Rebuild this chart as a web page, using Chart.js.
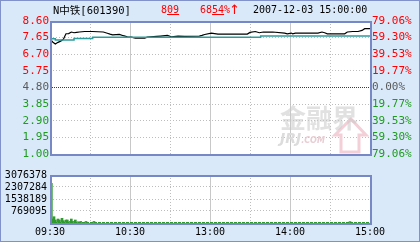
<!DOCTYPE html>
<html>
<head>
<meta charset="utf-8">
<script src="https://cdn.jsdelivr.net/npm/chart.js@4.4.1/dist/chart.umd.min.js"></script>
<style>
  body { margin: 0; }
  #box {
    position: relative; width: 420px; height: 242px; overflow: hidden;
    background: #d9e9f9; box-shadow: inset 0 0 0 1px #8191c9;
    font-family: 'DejaVu Sans Mono', 'Noto Sans CJK SC', monospace;
  }
  canvas { position: absolute; left: 0; }
  #priceChart { top: 0; }
  #volChart { top: 165px; }
  .t { position: absolute; top: 4px; font-size: 10.5px; line-height: 12px; white-space: nowrap; color: #000; }
  .red { color: #ff0000; }
  .wm { position: absolute; white-space: nowrap; pointer-events: none; }
</style>
</head>
<body>
<div id="box">
  <canvas id="priceChart" width="420" height="165"></canvas>
  <canvas id="volChart" width="420" height="77"></canvas>
  <span class="t" style="left:53px">N中铁[601390]</span>
  <span class="t red" style="left:161px;font-size:10px">8<u>09</u></span>
  <span class="t red" style="left:200px;font-size:10px">68<u>54</u>%</span>
  <span class="t red" style="left:229px;top:2px;font:13px 'DejaVu Sans'">↑</span>
  <span class="t" style="left:253px;font-size:10px">2007-12-03 15:00:00</span>
  <svg class="wm" style="left:0;top:0" width="420" height="165">
    <polygon points="351,119 366,135 359,135 359,152 341,152 341,135 335,135" fill="none" stroke="#f3cfd8" stroke-width="3"/>
  </svg>
  <span class="wm" style="left:280px;top:103px;font:bold 26px/28px 'Noto Sans CJK SC';color:rgba(200,200,200,0.55)">金融界</span>
  <span class="wm" style="left:280px;top:130px;font:italic bold 14px/16px 'DejaVu Sans';color:#dcdcdc">JRJ<span style="font-size:8px;color:#e8cdd4">.COM</span></span>
</div>
<script>
// minutes since 09:30 (trading time, 240 in total)
const priceMinutes = [0, 2, 4, 6, 8, 10, 11, 12, 14, 16, 18, 20, 22, 26, 32, 40, 43, 45, 47, 52, 55, 58, 61, 64, 71, 73, 80, 83, 88, 91, 96, 101, 112, 114, 116, 121, 126, 148, 150, 154, 157, 160, 167, 176, 178, 181, 182, 184, 187, 201, 204, 206, 208, 221, 223, 227, 231, 234, 236, 240];
const priceValues = [7.58, 7.40, 7.29, 7.38, 7.45, 7.55, 7.72, 7.87, 7.88, 7.97, 7.93, 7.95, 7.97, 8.00, 8.00, 7.97, 7.90, 7.85, 7.81, 7.83, 7.76, 7.70, 7.68, 7.62, 7.62, 7.68, 7.72, 7.74, 7.78, 7.70, 7.74, 7.72, 7.74, 7.78, 7.83, 7.91, 7.85, 7.85, 7.95, 8.00, 7.93, 7.97, 7.97, 7.91, 7.87, 7.91, 7.87, 7.91, 7.91, 7.91, 7.97, 7.93, 7.87, 7.87, 7.97, 8.00, 8.00, 8.06, 8.16, 8.16];
const avgMinutes = [0, 4, 18, 32, 158, 240];
const avgValues = [7.58, 7.51, 7.60, 7.67, 7.74, 7.74];
const volMinutes = [1, 2, 3, 4, 6, 7, 9, 10, 12, 13, 15, 16, 17, 19, 21, 23, 27, 33, 225];
const volValues = [2545000, 256000, 404000, 192000, 256000, 192000, 301000, 147000, 192000, 192000, 100000, 256000, 100000, 192000, 80000, 100000, 100000, 100000, 90000];
const baseVolume = 32000;

const prevClose = 4.80;
const priceTicks = [1.00, 1.95, 2.90, 3.85, 4.80, 5.75, 6.70, 7.65, 8.60];
const pctLabels = ['79.06%', '59.30%', '39.53%', '19.77%', '0.00%', '19.77%', '39.53%', '59.30%', '79.06%'];
const volTicks = [0, 769095, 1538189, 2307284, 3076378];
const timeTicks = [0, 30, 60, 90, 120, 150, 180, 210, 240];
const timeLabels = ['09:30', '', '10:30', '', '13:00', '', '14:00', '', '15:00'];

Chart.defaults.font.family = "'DejaVu Sans Mono', monospace";

const red = '#ff0000';
const green = '#1f9b1f';
const frameColor = '#7888c4';

function isPrevClose(ctx) {
  return ctx.tick && Math.abs(ctx.tick.value - prevClose) < 0.001;
}

function labelColor(ctx) {
  if (isPrevClose(ctx)) return '#5a5a5a';
  return ctx.tick.value > prevClose ? red : green;
}

function timeGridColor(ctx) {
  if (!ctx.tick) return '#c4c4c4';
  return ctx.tick.value % 60 === 0 ? '#c8c8c8' : '#bdbdbd';
}

function timeGridDash(ctx) {
  if (!ctx.tick) return [];
  return ctx.tick.value % 60 === 0 ? [] : [1, 2];
}

const framePlugin = {
  id: 'frame',
  beforeDraw(chart) {
    const a = chart.chartArea;
    const ctx = chart.ctx;
    ctx.save();
    ctx.fillStyle = '#ffffff';
    ctx.fillRect(a.left, a.top, a.right - a.left + 1, a.bottom - a.top + 1);
    ctx.restore();
  },
  afterDraw(chart) {
    const a = chart.chartArea;
    const ctx = chart.ctx;
    ctx.save();
    ctx.strokeStyle = frameColor;
    ctx.lineWidth = 2;
    ctx.strokeRect(a.left + 1, a.top + 1, a.right - a.left, a.bottom - a.top);
    ctx.restore();
  }
};

const timeAxis = {
  type: 'linear',
  min: 0,
  max: 240,
  offset: false,
  afterBuildTicks: (s) => { s.ticks = timeTicks.map(v => ({ value: v })); },
  grid: { drawTicks: false, offset: false, color: timeGridColor },
  border: { display: false, dash: timeGridDash }
};

new Chart(document.getElementById('priceChart'), {
  type: 'line',
  data: {
    datasets: [{
      data: avgMinutes.map((m, i) => ({ x: m, y: avgValues[i] })),
      borderColor: '#2e9c9c',
      borderWidth: 1.5,
      stepped: true,
      pointRadius: 0
    }, {
      data: priceMinutes.map((m, i) => ({ x: m, y: priceValues[i] })),
      borderColor: '#000000',
      borderWidth: 1.2,
      pointRadius: 0
    }]
  },
  options: {
    responsive: false,
    animation: false,
    devicePixelRatio: 1,
    layout: { padding: { top: 21, bottom: 11, left: 0, right: 0 } },
    plugins: { legend: { display: false }, tooltip: { enabled: false } },
    scales: {
      x: Object.assign({}, timeAxis, {
        afterFit: (s) => { s.height = 0; },
        ticks: { display: false }
      }),
      y: {
        position: 'left',
        min: 1.00,
        max: 8.60,
        afterBuildTicks: (s) => { s.ticks = priceTicks.map(v => ({ value: v })); },
        afterFit: (s) => { s.width = 50; },
        ticks: {
          padding: 1,
          autoSkip: false,
          color: labelColor,
          font: { size: 11 },
          callback: (v) => v.toFixed(2)
        },
        grid: {
          drawTicks: false,
          color: (ctx) => isPrevClose(ctx) ? '#3c3c3c' : '#bdbdbd'
        },
        border: { display: false, dash: (ctx) => ctx.tick ? (isPrevClose(ctx) ? [1, 1] : [1, 2]) : [] }
      },
      y2: {
        position: 'right',
        min: 1.00,
        max: 8.60,
        afterBuildTicks: (s) => { s.ticks = priceTicks.map(v => ({ value: v })); },
        afterFit: (s) => { s.width = 50; },
        ticks: {
          padding: 2,
          autoSkip: false,
          color: labelColor,
          font: { size: 11 },
          callback: (v, i) => pctLabels[i]
        },
        grid: { drawOnChartArea: false, drawTicks: false },
        border: { display: false }
      }
    }
  },
  plugins: [framePlugin]
});

new Chart(document.getElementById('volChart'), {
  type: 'bar',
  data: {
    datasets: [{
      type: 'bar',
      data: volMinutes.map((m, i) => ({ x: m, y: volValues[i] })),
      backgroundColor: '#2f9a2f',
      barThickness: 2
    }, {
      type: 'line',
      data: [{ x: 0, y: baseVolume }, { x: 240, y: baseVolume }],
      borderColor: '#2f9a2f',
      borderWidth: 1,
      borderDash: [3, 1],
      pointRadius: 0
    }]
  },
  options: {
    responsive: false,
    animation: false,
    devicePixelRatio: 1,
    layout: { padding: { top: 10, bottom: 0, left: 0, right: 50 } },
    plugins: { legend: { display: false }, tooltip: { enabled: false } },
    scales: {
      x: Object.assign({}, timeAxis, {
        afterFit: (s) => { s.height = 19; },
        ticks: {
          padding: 3,
          maxRotation: 0,
          autoSkip: false,
          color: '#000000',
          font: { size: 10 },
          callback: (v, i) => timeLabels[i]
        }
      }),
      y: {
        min: 0,
        max: 3076378,
        afterBuildTicks: (s) => { s.ticks = volTicks.map(v => ({ value: v })); },
        afterFit: (s) => { s.width = 50; },
        ticks: {
          padding: 3,
          autoSkip: false,
          color: '#000000',
          font: { size: 10 },
          callback: (v) => v === 0 ? '' : String(v)
        },
        grid: { drawTicks: false, color: '#bdbdbd' },
        border: { display: false, dash: (ctx) => ctx.tick ? [1, 2] : [] }
      }
    }
  },
  plugins: [framePlugin]
});
</script>
</body>
</html>
